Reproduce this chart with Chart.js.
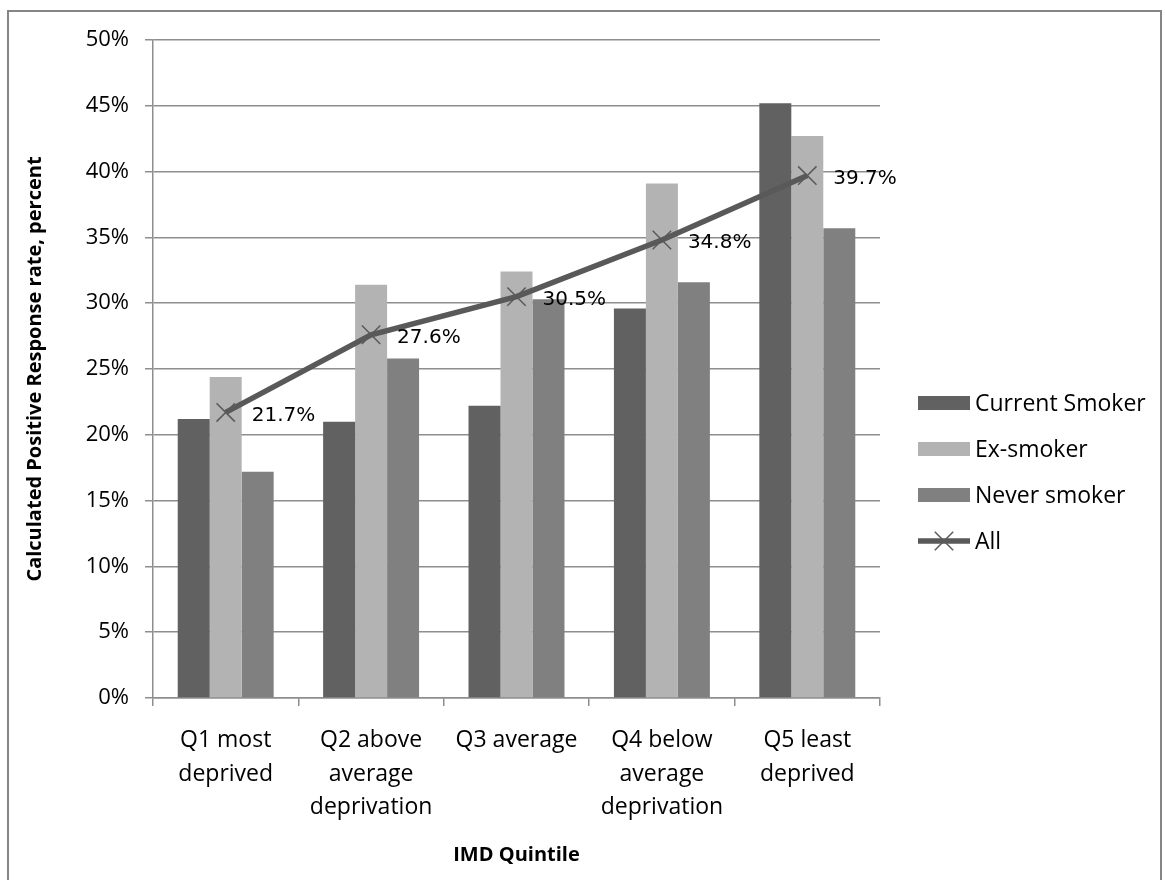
<!DOCTYPE html>
<html>
<head>
<meta charset="utf-8">
<script src="https://cdn.jsdelivr.net/npm/chart.js@4.4.1/dist/chart.umd.min.js"></script>
<style>
  html, body { margin: 0; padding: 0; background: #fff; }
  canvas { display: block; }
</style>
</head>
<body>
<canvas id="chart" width="1165" height="880"></canvas>
<script>
// values (percent)
const categories = [
  ['Q1 most', 'deprived'],
  ['Q2 above', 'average', 'deprivation'],
  ['Q3 average'],
  ['Q4 below', 'average', 'deprivation'],
  ['Q5 least', 'deprived']
];
const currentSmoker = [21.2, 21.0, 22.2, 29.6, 45.2];
const exSmoker = [24.4, 31.4, 32.4, 39.1, 42.7];
const neverSmoker = [17.2, 25.8, 30.3, 31.6, 35.7];
const allRespondents = [21.7, 27.6, 30.5, 34.8, 39.7];
const yMin = 0, yMax = 50, yStep = 5;

const gridColor = '#8e8e8e';
Chart.defaults.font.family = "'Open Sans', sans-serif";
Chart.defaults.font.size = 22;
Chart.defaults.color = '#000';

// outer frame of the chart
const framePlugin = {
  id: 'frame',
  beforeDraw(chart) {
    const ctx = chart.ctx;
    ctx.save();
    ctx.fillStyle = '#fff';
    ctx.fillRect(0, 0, chart.width, chart.height);
    ctx.strokeStyle = '#868686';
    ctx.lineWidth = 2;
    ctx.strokeRect(8, 11, 1153, 900);
    ctx.restore();
  }
};

// value labels to the right of the "All" points
const pointLabels = {
  id: 'pointLabels',
  afterDatasetsDraw(chart) {
    const ctx = chart.ctx;
    chart.data.datasets.forEach((ds, i) => {
      if (ds.type !== 'line') return;
      const meta = chart.getDatasetMeta(i);
      ctx.save();
      ctx.font = "20px 'DejaVu Sans'";
      ctx.fillStyle = '#000';
      ctx.textBaseline = 'middle';
      meta.data.forEach((pt, j) => {
        ctx.fillText(ds.data[j].toFixed(1) + '%', pt.x + 26, pt.y + 3);
      });
      ctx.restore();
    });
  }
};

// legend drawn like the office chart: bar swatches and a line with cross
const sideLegend = {
  id: 'sideLegend',
  afterDraw(chart) {
    const ctx = chart.ctx;
    const x0 = 918, w = 52, y0 = 403, step = 46;
    ctx.save();
    ctx.font = "23px 'Open Sans'";
    ctx.textBaseline = 'middle';
    chart.data.datasets.forEach((ds, i) => {
      const y = y0 + i * step;
      if (ds.type === 'line') {
        ctx.strokeStyle = ds.borderColor;
        ctx.lineWidth = ds.borderWidth;
        ctx.beginPath();
        ctx.moveTo(x0, y);
        ctx.lineTo(x0 + w, y);
        ctx.stroke();
        ctx.strokeStyle = ds.pointBorderColor;
        ctx.lineWidth = ds.pointBorderWidth;
        ctx.beginPath();
        const r = ds.pointRadius * Math.SQRT1_2;
        ctx.moveTo(x0 + w / 2 - r, y - r); ctx.lineTo(x0 + w / 2 + r, y + r);
        ctx.moveTo(x0 + w / 2 - r, y + r); ctx.lineTo(x0 + w / 2 + r, y - r);
        ctx.stroke();
      } else {
        ctx.fillStyle = ds.backgroundColor;
        ctx.fillRect(x0, y - 7, w, 14);
      }
      ctx.fillStyle = '#000';
      ctx.fillText(ds.label, x0 + w + 5, y + 1);
    });
    ctx.restore();
  }
};

new Chart(document.getElementById('chart'), {
  type: 'bar',
  data: {
    labels: categories,
    datasets: [
      { label: 'Current Smoker', data: currentSmoker, backgroundColor: '#616161', order: 1 },
      { label: 'Ex-smoker', data: exSmoker, backgroundColor: '#b3b3b3', order: 1 },
      { label: 'Never smoker', data: neverSmoker, backgroundColor: '#808080', order: 1 },
      {
        type: 'line', label: 'All', data: allRespondents, order: 0,
        borderColor: '#595959', borderWidth: 5.5, tension: 0,
        pointStyle: 'crossRot', pointRadius: 13, pointBorderWidth: 1.5,
        pointBorderColor: '#595959', pointBackgroundColor: 'rgba(0,0,0,0)'
      }
    ]
  },
  options: {
    responsive: false,
    animation: false,
    devicePixelRatio: 1,
    layout: { padding: { left: 0, top: 40, right: 285, bottom: 0 } },
    datasets: { bar: { categoryPercentage: 0.66, barPercentage: 1.0 } },
    plugins: { legend: { display: false }, tooltip: { enabled: false } },
    scales: {
      x: {
        afterFit(scale) { scale.height = 182; },
        grid: { drawOnChartArea: false, drawTicks: true, tickLength: 8, color: gridColor, lineWidth: 1.5, offset: true },
        border: { color: gridColor, width: 1.5 },
        ticks: { maxRotation: 0, autoSkip: false, padding: 18, font: { size: 23, lineHeight: 1.45 } },
        title: { display: true, text: 'IMD Quintile', font: { size: 20, weight: 'bold' }, padding: { top: 0, bottom: 13 } }
      },
      y: {
        min: yMin, max: yMax,
        afterFit(scale) { scale.width = 153; },
        grid: { color: gridColor, lineWidth: 1.5, tickLength: 8 },
        border: { color: gridColor, width: 1.5 },
        ticks: { stepSize: yStep, padding: 16, callback: v => v + '%' },
        title: { display: true, text: 'Calculated Positive Response rate, percent', font: { size: 20, weight: 'bold' }, padding: { top: 23, bottom: 0 } }
      }
    }
  },
  plugins: [framePlugin, pointLabels, sideLegend]
});
</script>
</body>
</html>
